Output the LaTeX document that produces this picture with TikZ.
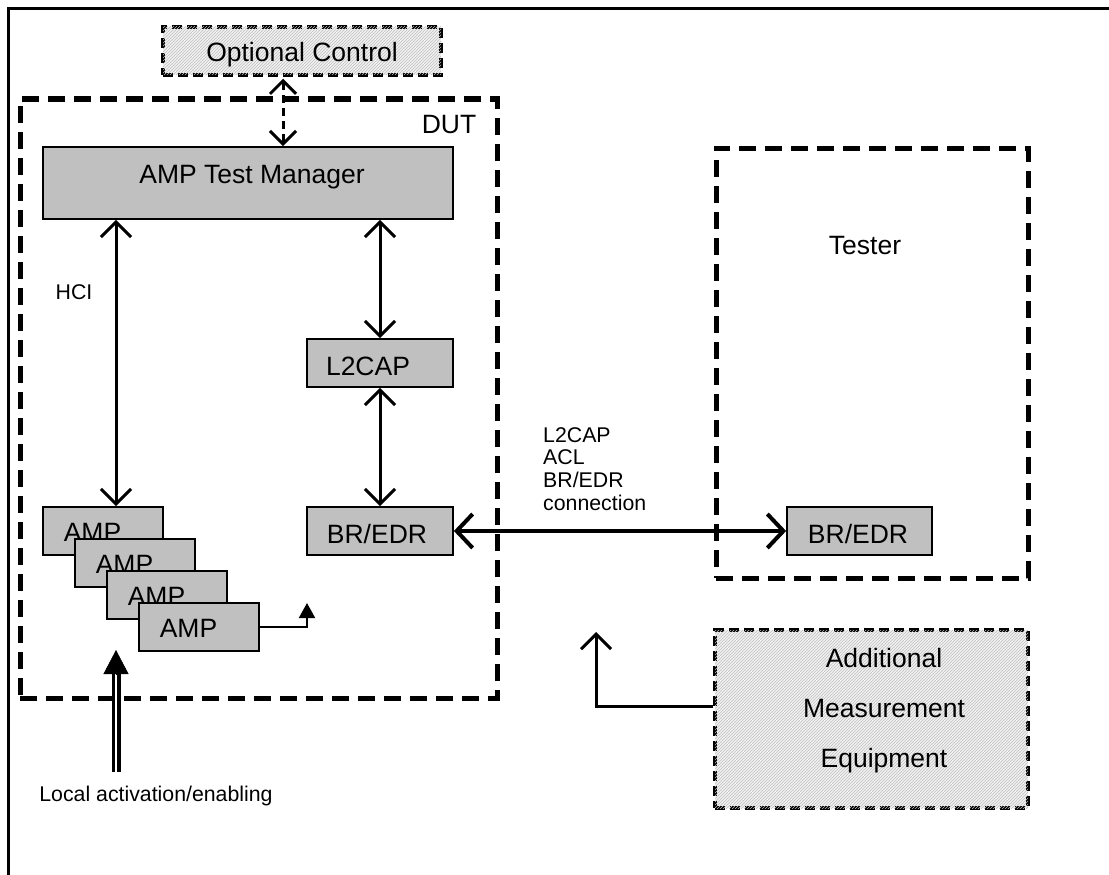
\documentclass[tikz,border=0pt]{standalone}
\usepackage{fontspec}
\setmainfont{Liberation Sans}
\usetikzlibrary{arrows.meta,patterns,calc}
\definecolor{boxgray}{HTML}{C0C0C0}
\begin{document}
\begin{tikzpicture}[x=1pt,y=-1pt,
  gbox/.style={draw, line width=1.8pt, fill=boxgray, inner sep=0pt, minimum height=48pt},
  big/.style={font=\fontsize{26.5}{30}\selectfont},
  small/.style={font=\fontsize{21.3}{22.7}\selectfont},
  lbl/.style={inner sep=0pt, anchor=base},
  thickdash/.style={draw, line width=5pt, dash pattern=on 17pt off 9pt, inner sep=0pt},
  thindash/.style={draw, line width=3.5pt, dash pattern=on 10pt off 5pt, inner sep=0pt},
  hatch/.style={fill=gray!10, postaction={pattern=north east lines, pattern color=gray!50}},
  biarrow/.style={line width=3pt, {Straight Barb[length=15pt,width=30pt]}-{Straight Barb[length=15pt,width=30pt]}},
]
\useasboundingbox (0,0) rectangle (1109,875);
% outer frame
\draw[line width=3pt] (8.5,875) -- (8.5,9) -- (1109,9);

% dashed containers
\node[thickdash, minimum width=477pt, minimum height=599pt] (dut) at (258.5,398.5) {};
\node[thickdash, minimum width=312pt, minimum height=430pt] (tester) at (872,363) {};
\node[thindash, hatch, minimum width=278pt, minimum height=48pt] (opt) at (302,51) {};
\node[thindash, hatch, minimum width=313pt, minimum height=178pt] (ame) at (871.5,719) {};

% labels of containers
\node[lbl,big] (optt) at (302,62) {Optional Control};
\node[lbl,big] (dutt) at (449,133) {DUT};
\node[lbl,big] (testert) at (865,254) {Tester};
\node[align=center, anchor=north, inner sep=0pt, font=\fontsize{26.5}{50}\selectfont] (amet) at (884,648) {Additional\\Measurement\\Equipment};

% grey blocks
\node[gbox, minimum width=410pt, minimum height=72pt] (mgr) at (248,183) {};
\node[lbl,big] (mgrt) at (252,183) {AMP Test Manager};
\node[gbox, minimum width=146pt] (l2cap) at (380,363) {};
\node[lbl,big] (l2capt) at (368,375) {L2CAP};
\node[gbox, minimum width=146pt] (brl) at (380,531) {};
\node[lbl,big] (brlt) at (377,543) {BR/EDR};
\node[gbox, minimum width=145pt] (brr) at (859.5,531) {};
\node[lbl,big] (brrt) at (858,543) {BR/EDR};

% stacked AMP blocks
\node[gbox, minimum width=120pt] (amp1) at (103,531) {};
\node[lbl,big] (ampt1) at (92.5,541.5) {AMP};
\node[gbox, minimum width=120pt] (amp2) at (135,563) {};
\node[lbl,big] (ampt2) at (124.5,573.5) {AMP};
\node[gbox, minimum width=120pt] (amp3) at (167,595) {};
\node[lbl,big] (ampt3) at (156.5,605.5) {AMP};
\node[gbox, minimum width=120pt] (amp4) at (199,627) {};
\node[lbl,big] (ampt4) at (188.5,637.5) {AMP};

% small labels
\node[lbl,small] (hci) at (74,299) {HCI};
\node[small, align=left, anchor=north west, inner sep=0pt] (conn) at (543,427) {L2CAP\\ACL\\BR/EDR\\connection};
\node[lbl,small] (lat) at (156,801) {Local activation/enabling};

% connectors
\coordinate (oc) at (283,0);
\draw[line width=3pt, dash pattern=on 8pt off 5pt, {Straight Barb[length=13pt,width=26pt]}-{Straight Barb[length=13pt,width=26pt]}]
  ($(opt.south -| oc)+(0,2)$) -- (mgr.north -| oc);
\coordinate (hx) at (116,0);
\draw[biarrow] (mgr.south -| hx) -- (amp1.north -| hx);
\draw[biarrow] (mgr.south -| l2cap) -- (l2cap.north);
\draw[biarrow] (l2cap.south) -- (brl.north);
\draw[line width=4pt, {Straight Barb[length=16pt,width=34pt]}-{Straight Barb[length=16pt,width=34pt]}] (brl.east) -- (brr.west);

\coordinate (aup) at (307,603);
\draw[line width=2pt, -{Triangle[length=15pt,width=16pt]}] (amp4.east) -| (aup);

\coordinate (las) at (116,772);
\coordinate (lae) at (116,672);
\coordinate (latip) at (116,650);
\draw[double, double distance=2pt, line width=3.5pt] (las) -- (lae);
\draw[line width=0.5pt, -{Triangle[length=24pt,width=25pt]}] ($(lae)+(0,2)$) -- (latip);

\coordinate (ameo) at (ame.west |- 0,706);
\coordinate (meas) at (596,632);
\draw[line width=3pt, -{Straight Barb[length=15pt,width=30pt]}] (ameo) -| (meas);
\end{tikzpicture}
\end{document}
